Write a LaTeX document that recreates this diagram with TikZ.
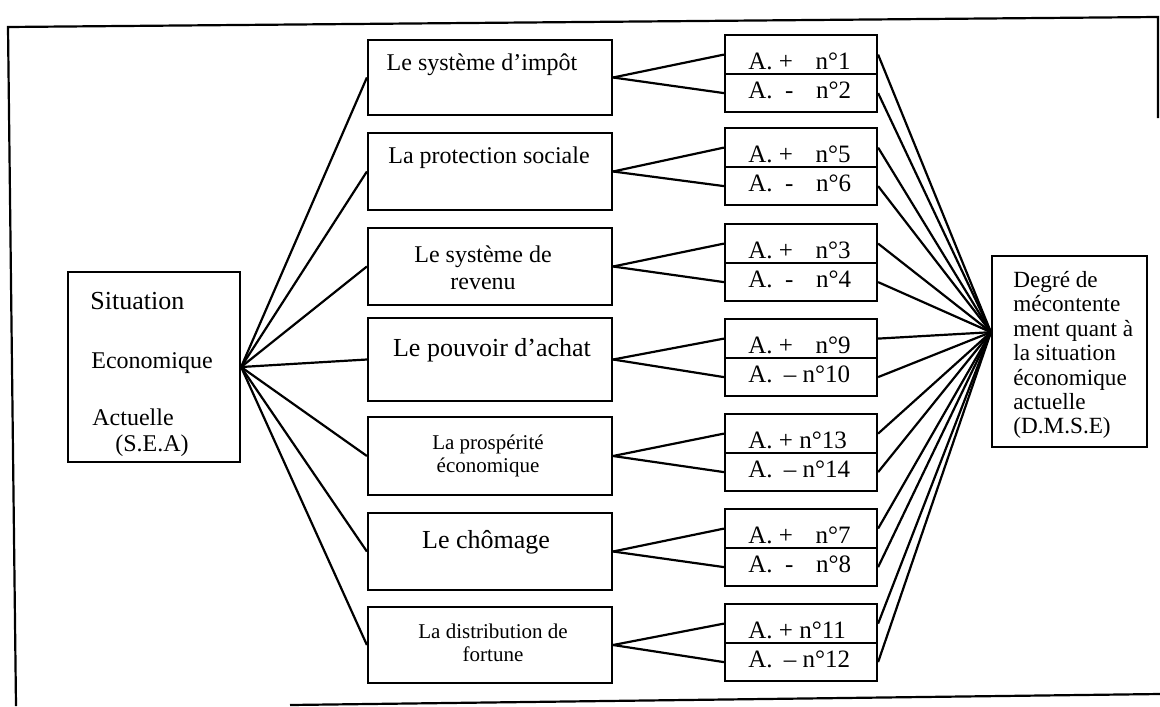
\documentclass[tikz,border=0pt]{standalone}
\usepackage{fontspec}
\setmainfont{Liberation Serif}
\usetikzlibrary{calc}

\begin{document}
\begin{tikzpicture}[x=0.5pt,y=-0.5pt,
	box/.style={draw,line width=1.1pt,inner sep=0pt},
	txt/.style={inner sep=0pt,align=center,font=\fontsize{12}{13.6}\selectfont},
	atxt/.style={inner sep=0pt,anchor=base west,font=\fontsize{12.5}{14}\selectfont},
	link/.style={line width=1.1pt}]
	\useasboundingbox (0,0) rectangle (1160,706);
	% frame of the page
	\draw[line width=1.1pt] (1158,118) -- (1158,17) -- (8,27) -- (16,706);
	\draw[line width=1.1pt] (290,705) -- (1160,694);
	% situation economique actuelle
	\node[box,minimum width=86pt,minimum height=95pt] (sea) at (154,367) {};
	\node[txt,anchor=base west,font=\fontsize{13}{15}\selectfont] (sea1) at (90,309) {Situation};
	\node[txt,anchor=base west] (sea2) at (91,368) {Economique};
	\node[txt,anchor=base west] (sea3) at (92,425) {Actuelle};
	\node[txt,anchor=base west] (sea4) at (115,451) {(S.E.A)};
	% the seven themes
	\node[box,minimum width=122pt,minimum height=37.5pt] (m1) at (490,77.5) {};
	\node[box,minimum width=122pt,minimum height=38.5pt] (m2) at (490,171.5) {};
	\node[box,minimum width=122pt,minimum height=38.5pt] (m3) at (490,266.5) {};
	\node[box,minimum width=122pt,minimum height=41.5pt] (m4) at (490,359.5) {};
	\node[box,minimum width=122pt,minimum height=39pt] (m5) at (490,456) {};
	\node[box,minimum width=122pt,minimum height=38.5pt] (m6) at (490,551.5) {};
	\node[box,minimum width=122pt,minimum height=38pt] (m7) at (490,645) {};
	\node[txt] (m1t) at (482,65) {Le système d’impôt};
	\node[txt] (m2t) at (489,158) {La protection sociale};
	\node[txt] (m3t) at (483,268) {Le système de\\revenu};
	\node[txt,font=\fontsize{13}{15}\selectfont] (m4t) at (492,350) {Le pouvoir d’achat};
	\node[txt,font=\fontsize{10.5}{11.6}\selectfont] (m5t) at (488,456) {La prospérité\\économique};
	\node[txt,font=\fontsize{13}{15}\selectfont] (m6t) at (486,542) {Le chômage};
	\node[txt,font=\fontsize{10.5}{11.6}\selectfont] (m7t) at (493,643) {La distribution de\\fortune};
	% degre de mecontentement
	\node[box,minimum width=77.5pt,minimum height=95.5pt] (dmse) at (1069.5,351.5) {};
	\node[inner sep=0pt,anchor=north west,align=left,font=\fontsize{11.6}{12.2}\selectfont] (dmset) at (1013,271)
		{Degré de\\mécontente\\ment quant à\\la situation\\économique\\actuelle\\(D.M.S.E)};
	\coordinate (dm) at ($(dmse.north west)!0.4!(dmse.south west)$);
	% attitudes + and -
	\foreach \i/\t in {1/34,2/127,3/223,4/318,5/413,6/508,7/603} {
		\node[box,minimum width=76pt,minimum height=19.5pt,anchor=north] (ap\i) at (801,\t) {};
		\node[box,minimum width=76pt,minimum height=19pt,anchor=north] (am\i) at (801,\t+39) {};
	}
	\foreach \i/\t/\p/\m in {1/34/{A. +\hspace{0.9em}n°1}/{A. \hspace{0.25em}-\hspace{0.9em}n°2},
		2/127/{A. +\hspace{0.9em}n°5}/{A. \hspace{0.25em}-\hspace{0.9em}n°6},
		3/223/{A. +\hspace{0.9em}n°3}/{A. \hspace{0.25em}-\hspace{0.9em}n°4},
		4/318/{A. +\hspace{0.9em}n°9}/{A. \hspace{0.2em}– n°10},
		5/413/{A. + n°13}/{A. \hspace{0.2em}– n°14},
		6/508/{A. +\hspace{0.9em}n°7}/{A. \hspace{0.25em}-\hspace{0.9em}n°8},
		7/603/{A. + n°11}/{A. \hspace{0.2em}– n°12}} {
		\node[atxt] (apt\i) at (748,\t+35) {\p};
		\node[atxt] (amt\i) at (748,\t+64) {\m};
	}
	% connectors
	\foreach \i in {1,...,7} {
		\draw[link] (sea.east) -- (m\i.west);
		\draw[link] (m\i.east) -- (ap\i.west);
		\draw[link] (m\i.east) -- (am\i.west);
		\draw[link] (ap\i.east) -- (dm);
		\draw[link] (am\i.east) -- (dm);
	}
\end{tikzpicture}
\end{document}
